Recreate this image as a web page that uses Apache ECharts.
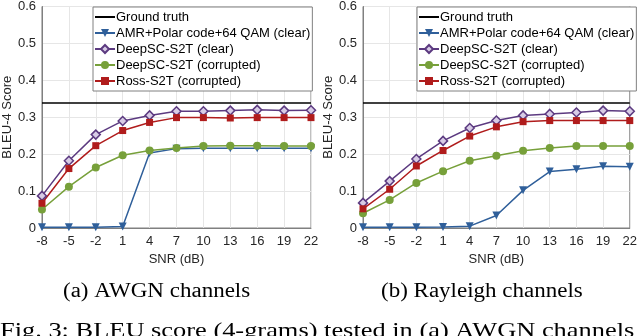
<!DOCTYPE html>
<html>
<head>
<meta charset="utf-8">
<script src="https://cdn.jsdelivr.net/npm/echarts@6/dist/echarts.min.js"></script>
<style>
  html, body { margin: 0; padding: 0; background: #fff; }
  #chart { width: 640px; height: 336px; }
</style>
</head>
<body>
<div id="chart"></div>
<script>
// SNR points on the x axis
const snr = ['-8', '-5', '-2', '1', '4', '7', '10', '13', '16', '19', '22'];
const groundTruth = 0.338;

// (a) AWGN
const awgnAmr = [0.002, 0.002, 0.002, 0.004, 0.203, 0.215, 0.216, 0.216, 0.216, 0.216, 0.216];
const awgnDeepClear = [0.087, 0.182, 0.253, 0.29, 0.305, 0.316, 0.316, 0.318, 0.32, 0.318, 0.319];
const awgnDeepCorr = [0.05, 0.112, 0.164, 0.197, 0.21, 0.217, 0.222, 0.223, 0.223, 0.222, 0.222];
const awgnRoss = [0.067, 0.161, 0.223, 0.264, 0.286, 0.299, 0.299, 0.298, 0.299, 0.299, 0.299];

// (b) Rayleigh
const rayAmr = [0.002, 0.002, 0.002, 0.003, 0.005, 0.034, 0.102, 0.153, 0.159, 0.167, 0.166];
const rayDeepClear = [0.068, 0.127, 0.187, 0.236, 0.271, 0.291, 0.305, 0.309, 0.313, 0.318, 0.316];
const rayDeepCorr = [0.04, 0.076, 0.122, 0.154, 0.182, 0.196, 0.209, 0.217, 0.222, 0.222, 0.222];
const rayRoss = [0.052, 0.105, 0.168, 0.21, 0.249, 0.274, 0.288, 0.291, 0.291, 0.291, 0.291];

const names = ['Ground truth', 'AMR+Polar code+64 QAM (clear)', 'DeepSC-S2T (clear)', 'DeepSC-S2T (corrupted)', 'Ross-S2T (corrupted)'];
const colors = ['#000000', '#2f5f9a', '#5c3a80', '#77a03a', '#b01c1c'];

const sans = 'Liberation Sans, Arial, sans-serif';
const axisGray = '#808080';

function xAxis(gi) {
  return {
    type: 'category', gridIndex: gi, data: snr, boundaryGap: false,
    name: 'SNR (dB)', nameLocation: 'middle', nameGap: 23,
    nameTextStyle: { fontFamily: sans, fontSize: 13, color: '#262626' },
    axisLine: { lineStyle: { color: axisGray } },
    axisTick: { show: false },
    axisLabel: { fontFamily: sans, fontSize: 13, color: '#262626', margin: 7, interval: 0 },
    splitLine: { show: true, lineStyle: { color: '#e6e6e6' } }
  };
}
function yAxis(gi) {
  return {
    type: 'value', gridIndex: gi, min: 0, max: 0.6, interval: 0.1,
    name: 'BLEU-4 Score', nameLocation: 'middle', nameGap: 21,
    nameTextStyle: { fontFamily: sans, fontSize: 13, color: '#262626' },
    axisLine: { show: true, lineStyle: { color: axisGray } },
    axisTick: { show: false },
    axisLabel: { fontFamily: sans, fontSize: 13, color: '#262626', margin: 6 },
    splitLine: { show: true, lineStyle: { color: '#e6e6e6' } }
  };
}

function seriesFor(gi, amr, deepClear, deepCorr, ross) {
  const common = { type: 'line', xAxisIndex: gi, yAxisIndex: gi, lineStyle: { width: 1.5 }, animation: false };
  return [
    Object.assign({}, common, {
      name: names[0], data: [], symbol: 'none', itemStyle: { color: colors[0] },
      lineStyle: { width: 1.5, color: '#000' },
      markLine: {
        silent: true, symbol: 'none', label: { show: false },
        lineStyle: { color: '#000', width: 1.5, type: 'solid' },
        data: [{ yAxis: groundTruth }]
      }
    }),
    Object.assign({}, common, {
      name: names[1], data: amr, symbol: 'triangle', symbolRotate: 180, symbolSize: 8,
      itemStyle: { color: colors[1] }
    }),
    Object.assign({}, common, {
      name: names[2], data: deepClear, symbol: 'diamond', symbolSize: 9,
      itemStyle: { color: '#d8cce6', borderColor: colors[2], borderWidth: 1.5 },
      lineStyle: { width: 1.5, color: colors[2] }
    }),
    Object.assign({}, common, {
      name: names[3], data: deepCorr, symbol: 'circle', symbolSize: 8,
      itemStyle: { color: colors[3] }
    }),
    Object.assign({}, common, {
      name: names[4], data: ross, symbol: 'rect', symbolSize: 7,
      itemStyle: { color: colors[4] }
    })
  ];
}

function legend(left) {
  return {
    data: [{ name: names[0], itemStyle: { opacity: 0 } }].concat(names.slice(1)),
    orient: 'vertical', left: left, top: 7,
    backgroundColor: '#fff', borderColor: axisGray, borderWidth: 1,
    padding: [3, 2, 3, 1], itemWidth: 20, itemHeight: 10, itemGap: 2,
    textStyle: { fontFamily: sans, fontSize: 13, color: '#000', lineHeight: 14, padding: [0, 0, 0, -4] }
  };
}

const chart = echarts.init(document.getElementById('chart'));
chart.setOption({
  animation: false,
  grid: [
    { left: 40, right: 329, top: 6, bottom: 108, show: true, borderColor: axisGray, borderWidth: 1 },
    { left: 363, right: 6, top: 6, bottom: 108, show: true, borderColor: axisGray, borderWidth: 1 }
  ],
  xAxis: [xAxis(0), xAxis(1)],
  yAxis: [yAxis(0), yAxis(1)],
  legend: [legend(93), legend(417)],
  series: seriesFor(0, awgnAmr, awgnDeepClear, awgnDeepCorr, awgnRoss)
    .concat(seriesFor(1, rayAmr, rayDeepClear, rayDeepCorr, rayRoss)),
  graphic: [
    { type: 'text', x: 63, y: 282, scaleX: 1.15, style: { text: '(a) AWGN channels', font: '20px Liberation Serif', fill: '#000' } },
    { type: 'text', x: 381, y: 282, scaleX: 1.15, style: { text: '(b) Rayleigh channels', font: '20px Liberation Serif', fill: '#000' } },
    { type: 'text', x: 0, y: 320, scaleX: 1.2, style: { text: 'Fig. 3: BLEU score (4-grams) tested in (a) AWGN channels', font: '22px Liberation Serif', fill: '#000' } }
  ]
});
</script>
</body>
</html>
